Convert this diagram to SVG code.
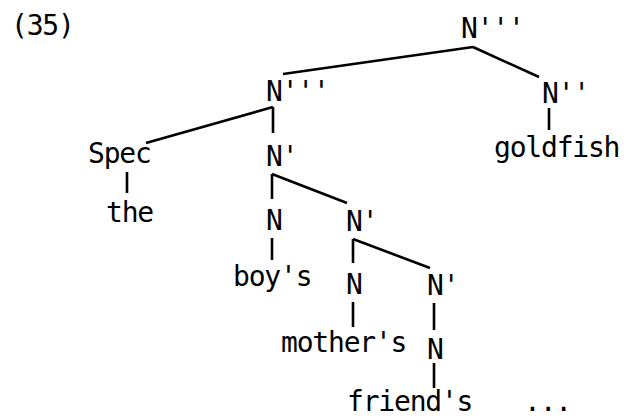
<svg xmlns="http://www.w3.org/2000/svg" width="624" height="418" viewBox="0 0 624 418">
<style>
text{font-family:"DejaVu Sans Mono","Liberation Mono",monospace;font-size:28px;letter-spacing:-1.2px;fill:#000}
.e{stroke:#000;stroke-width:2.6;stroke-linecap:butt;fill:none}
</style>
<rect width="624" height="418" fill="#fff"/>
<text x="11" y="35">(35)</text>
<g id="connectors">
<line class="e" x1="473" y1="47" x2="283" y2="74"/>
<line class="e" x1="473" y1="47" x2="539" y2="77"/>
<line class="e" x1="549" y1="108" x2="549" y2="130"/>
<line class="e" x1="273" y1="107" x2="146" y2="143"/>
<line class="e" x1="273" y1="107" x2="273" y2="133"/>
<line class="e" x1="127" y1="172" x2="127" y2="193"/>
<line class="e" x1="272" y1="174" x2="347" y2="203"/>
<line class="e" x1="272" y1="174" x2="272" y2="199"/>
<line class="e" x1="272" y1="238" x2="272" y2="260"/>
<line class="e" x1="353" y1="239" x2="430" y2="268"/>
<line class="e" x1="353" y1="239" x2="353" y2="263"/>
<line class="e" x1="353" y1="302" x2="353" y2="327"/>
<line class="e" x1="434" y1="303" x2="434" y2="330"/>
<line class="e" x1="434" y1="363" x2="434" y2="388"/>
</g>
<g id="n-top"><text x="461" y="38">N'''</text></g>
<g id="n3-left"><text x="266" y="101">N'''</text></g>
<g id="n2-right"><text x="542" y="103">N''</text></g>
<g id="goldfish"><text x="494" y="157">goldfish</text></g>
<g id="spec"><text x="88" y="163">Spec</text></g>
<g id="the"><text x="106" y="222">the</text></g>
<g id="n1-a"><text x="266" y="166">N'</text></g>
<g id="n-a"><text x="266" y="230">N</text></g>
<g id="boys"><text x="233" y="286">boy's</text></g>
<g id="n1-b"><text x="346" y="231">N'</text></g>
<g id="n-b"><text x="346" y="294">N</text></g>
<g id="mothers"><text x="281" y="352">mother's</text></g>
<g id="n1-c"><text x="427" y="295">N'</text></g>
<g id="n-c"><text x="427" y="359">N</text></g>
<g id="friends"><text x="347" y="411">friend's</text></g>
<g id="ellipsis"><text x="524" y="411">...</text></g>
</svg>
